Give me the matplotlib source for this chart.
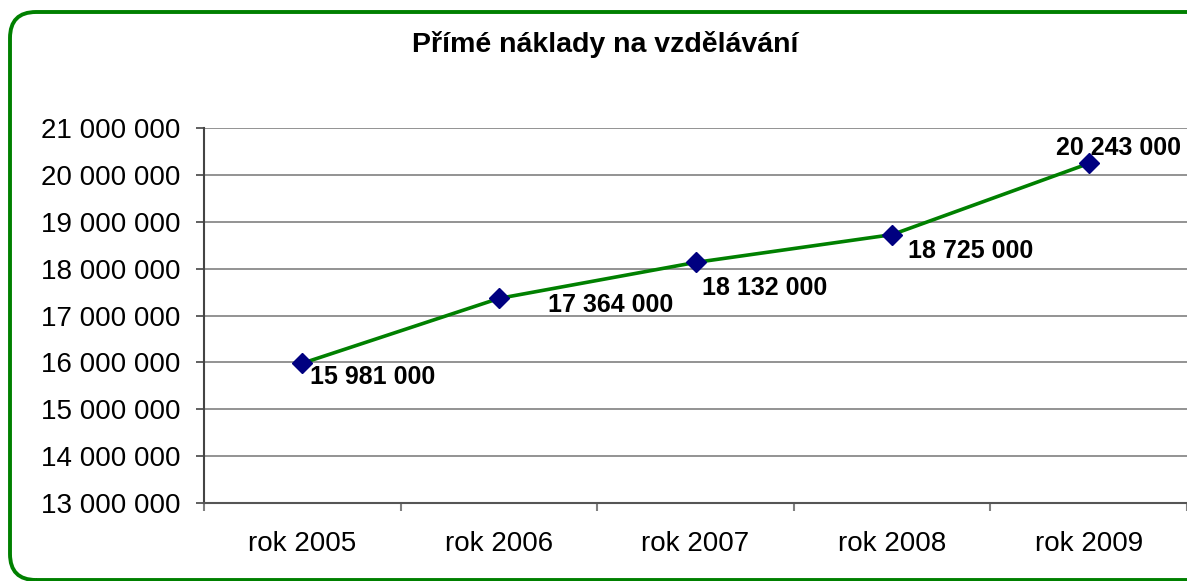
import matplotlib.pyplot as plt
from matplotlib.patches import FancyBboxPatch
from matplotlib.ticker import FixedLocator, FuncFormatter

plt.rcParams["font.family"] = ["Liberation Sans", "DejaVu Sans"]

years = ["rok 2005", "rok 2006", "rok 2007", "rok 2008", "rok 2009"]
costs = [15981000, 17364000, 18132000, 18725000, 20243000]
# label offsets in pixels from each marker (as placed in the original)
label_offsets = [(8, -14), (49, -7), (7, -26), (16, -16), (-33, 15)]


def fmt(v, pos=None):
    return f"{int(v):,}".replace(",", " ")


def main():
    fig = plt.figure(figsize=(11.87, 5.81), dpi=100)
    W, H = 1187, 581

    # green rounded frame, cut off at the right and bottom like the original
    border = FancyBboxPatch((10, 1), 1220, H - 13, boxstyle="round,pad=0,rounding_size=26",
                            linewidth=2.8, edgecolor="#008000", facecolor="none",
                            transform=None, zorder=0)
    fig.patches.append(border)

    ax = fig.add_axes([204 / W, 78 / H, 983 / W, 375 / H])
    ax.set_facecolor("none")

    x = list(range(len(years)))
    ax.plot(x, costs, color="#008000", linewidth=2.6, marker="D", markersize=10,
            markerfacecolor="#000080", markeredgecolor="#000080", zorder=3)

    for xi, v, off in zip(x, costs, label_offsets):
        ax.annotate(fmt(v), (xi, v), xytext=off, textcoords="offset pixels",
                    ha="left", va="center", fontsize=18, fontweight="bold", zorder=4)

    ax.set_xlim(-0.5, len(years) - 0.5)
    ax.set_ylim(13000000, 21000000)
    ax.yaxis.set_major_locator(FixedLocator(range(13000000, 21000001, 1000000)))
    ax.yaxis.set_major_formatter(FuncFormatter(fmt))
    ax.grid(axis="y", color="#808080", linewidth=1.2)
    ax.set_axisbelow(True)

    ax.set_xticks(x)
    ax.set_xticklabels(years)
    ax.set_xticks([i - 0.5 for i in range(len(years) + 1)], minor=True)
    ax.tick_params(axis="x", which="major", length=0, pad=20, labelsize=20)
    ax.tick_params(axis="x", which="minor", length=6, width=1.5, color="#808080", direction="out")
    ax.tick_params(axis="y", length=6, width=1.2, color="#444444", labelsize=20, pad=11)

    for side in ["top", "right"]:
        ax.spines[side].set_visible(False)
    ax.spines["left"].set_color("#444444")
    ax.spines["left"].set_linewidth(1.5)
    ax.spines["bottom"].set_color("#555555")
    ax.spines["bottom"].set_linewidth(1.5)

    fig.text(605 / W, 529 / H, "Přímé náklady na vzdělávání", ha="center", va="baseline",
             fontsize=20.5, fontweight="bold")

    fig.savefig("out.png", dpi=100)


if __name__ == "__main__":
    main()
